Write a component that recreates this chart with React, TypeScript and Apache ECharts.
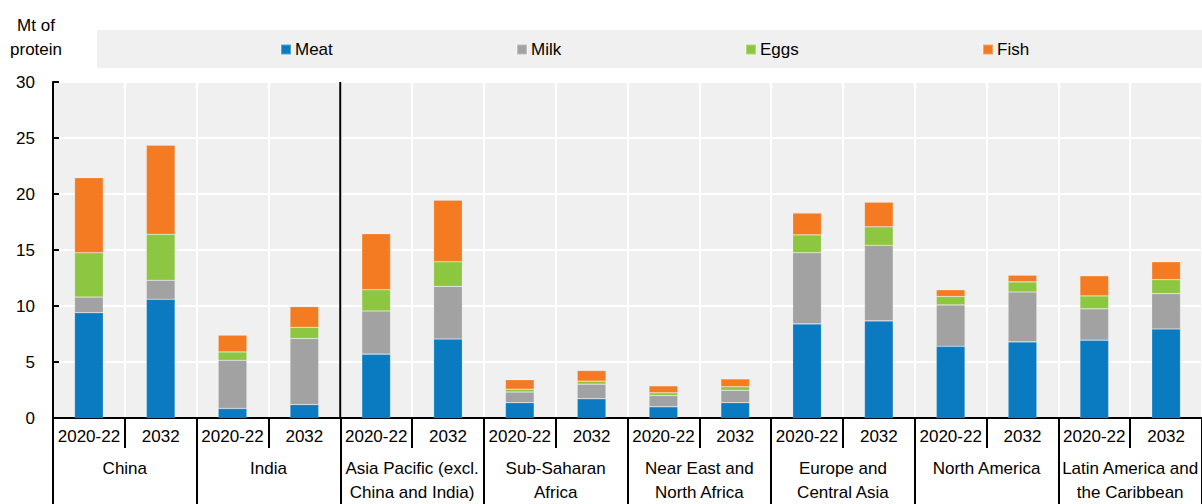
import React, { useEffect, useRef } from "react";
import * as echarts from "echarts";

const periods = ["2020-22", "2032"];
const regions = [
  "China",
  "India",
  "Asia Pacific (excl.\nChina and India)",
  "Sub-Saharan\nAfrica",
  "Near East and\nNorth Africa",
  "Europe and\nCentral Asia",
  "North America",
  "Latin America and\nthe Caribbean",
];
// values per bar, in order: region x period
const meat = [9.4, 10.6, 0.85, 1.2, 5.7, 7.05, 1.37, 1.72, 1.0, 1.37, 8.4, 8.67, 6.4, 6.8, 6.95, 7.95];
const milk = [1.4, 1.7, 4.3, 5.9, 3.85, 4.7, 0.95, 1.3, 1.0, 1.1, 6.35, 6.75, 3.7, 4.45, 2.8, 3.15];
const eggs = [3.95, 4.1, 0.75, 1.0, 1.9, 2.2, 0.25, 0.27, 0.25, 0.32, 1.6, 1.65, 0.75, 0.9, 1.15, 1.25];
const fish = [6.7, 7.95, 1.5, 1.85, 5.0, 5.5, 0.85, 0.95, 0.62, 0.7, 1.95, 2.2, 0.6, 0.6, 1.8, 1.6];
const yTicks = { min: 0, max: 30, interval: 5 };
const separatorAfterRegion = "India";

const seriesDefs = [
  { name: "Meat", data: meat, color: "#0A7BC1" },
  { name: "Milk", data: milk, color: "#A2A2A2" },
  { name: "Eggs", data: eggs, color: "#8DC641" },
  { name: "Fish", data: fish, color: "#F47B22" },
];
const legendLeft = [280, 516, 745, 982];

const FONT = "'Liberation Sans', Arial, sans-serif";
const FS = 17;

export default function App() {
  const ref = useRef<HTMLDivElement>(null);
  useEffect(() => {
    if (!ref.current) return;
    const chart = echarts.init(ref.current, null, { renderer: "svg" });
    const cats: string[] = [];
    regions.forEach(() => periods.forEach((p) => cats.push(p)));
    const nBars = cats.length;
    const sepX = (regions.indexOf(separatorAfterRegion) + 1) * periods.length;

    const textStyle = { fontFamily: FONT, fontSize: FS, color: "#000" };

    chart.setOption({
      animation: false,
      backgroundColor: "#fff",
      textStyle: { fontFamily: FONT },
      grid: { left: 53, top: 82, width: 1150, height: 342, containLabel: false, show: true, backgroundColor: "#F0F0F0", borderWidth: 0 },
      legend: seriesDefs.map((s, i) => ({
        data: [s.name],
        left: legendLeft[i],
        top: 41,
        padding: 0,
        itemWidth: 10,
        itemHeight: 10,
        icon: "rect",
        itemGap: 5,
        textStyle: { ...textStyle, padding: [0, 0, 0, -1] },
        selectedMode: false,
      })),
      graphic: [
        { type: "rect", z: -10, shape: { x: 97, y: 30, width: 1110, height: 38 }, style: { fill: "#F0F0F0" } },
        { type: "text", x: 36, y: 25, style: { text: "Mt of", font: `${FS}px ${FONT}`, textAlign: "center", textVerticalAlign: "middle", fill: "#000" } },
        { type: "text", x: 36, y: 49, style: { text: "protein", font: `${FS}px ${FONT}`, textAlign: "center", textVerticalAlign: "middle", fill: "#000" } },
      ],
      xAxis: [
        {
          type: "category",
          data: cats,
          position: "bottom",
          axisLine: { show: true, lineStyle: { color: "#000", width: 2 } },
          axisTick: { show: true, length: 30, interval: 0, lineStyle: { color: "#000", width: 2 } },
          axisLabel: { ...textStyle, interval: 0, margin: 8, lineHeight: 20 },
          splitLine: { show: true, interval: 0, lineStyle: { color: "#fff", width: 2 } },
        },
        {
          type: "category",
          data: regions,
          position: "bottom",
          axisLine: { show: false },
          axisTick: { show: true, length: 90, interval: 0, lineStyle: { color: "#000", width: 2 } },
          axisLabel: { ...textStyle, interval: 0, margin: 38, lineHeight: 24 },
          splitLine: { show: false },
        },
        { type: "value", min: 0, max: nBars, show: false },
      ],
      yAxis: {
        type: "value",
        min: yTicks.min,
        max: yTicks.max,
        interval: yTicks.interval,
        axisLine: { show: true, lineStyle: { color: "#000", width: 2 } },
        axisTick: { show: true, inside: true, length: 6, lineStyle: { color: "#000", width: 2 } },
        axisLabel: { ...textStyle, margin: 18 },
        splitLine: { show: true, lineStyle: { color: "#fff", width: 2 } },
      },
      series: [
        ...seriesDefs.map((s) => ({
          name: s.name,
          type: "bar",
          stack: "total",
          xAxisIndex: 0,
          barWidth: "40%",
          data: s.data,
          itemStyle: { color: s.color, borderColor: "rgba(255,255,255,0.3)", borderWidth: 0.6 },
        })),
        {
          type: "line",
          xAxisIndex: 2,
          data: [[sepX, yTicks.min], [sepX, yTicks.max]],
          symbol: "none",
          lineStyle: { color: "#000", width: 2 },
          silent: true,
          z: 5,
        },
      ],
    });
    return () => chart.dispose();
  }, []);
  return <div ref={ref} style={{ position: "absolute", left: 0, top: 0, width: 1202, height: 504 }} />;
}
